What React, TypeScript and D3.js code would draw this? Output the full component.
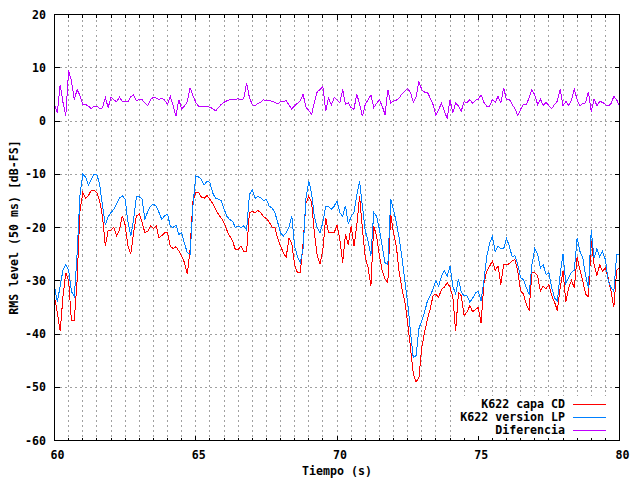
import React from "react";
import * as d3 from "d3";

// RMS level, 50 ms windows, one value every 0.1 s from 60 s to 80 s
const tStart = 60;
const tStep = 0.1;

const capaCD = [
  -33, -36, -39.5, -33, -28.5, -30, -37.5, -37.5, -30, -17,
  -13.5, -14.5, -14, -13, -13, -13.5, -15, -18, -23.5, -20.5,
  -20.5, -20, -21.5, -20.5, -17.8, -19.5, -23.5, -25, -21, -17.8,
  -17.5, -19, -21, -20.7, -19.7, -20.2, -19.7, -22, -21.5, -21,
  -21, -23.5, -24, -23.6, -24.4, -25.3, -26.6, -28.8, -24, -15,
  -13.5, -13.4, -14.3, -14.5, -14, -14.7, -15.5, -16.6, -17.5, -18.2,
  -19.1, -20.5, -21.6, -22.5, -24.1, -24.1, -23.5, -24.5, -24.5, -17.2,
  -17, -17.2, -16.8, -17.2, -18, -18.3, -19, -19.9, -20, -22,
  -23.5, -24.7, -25.6, -22, -23, -27, -28.5, -28.5, -23, -15.5,
  -14.1, -15.2, -21, -25.3, -26.9, -24.1, -18.2, -21, -21, -21,
  -19.5, -22.2, -26.6, -21.3, -23.3, -19.7, -23.5, -19.7, -14.1, -20.3,
  -25.6, -27.5, -31, -19.7, -21.6, -25.3, -28.1, -29.7, -30.3, -17.5,
  -21, -23.5, -28.4, -31.6, -33.8, -37.8, -42.5, -47.4, -49, -48.2,
  -42.5, -39.7, -37.2, -35.3, -32.8, -32.5, -33.1, -31.6, -31.2, -30.4,
  -31.2, -33, -39.5, -32.2, -32.8, -36.5, -35.9, -34.7, -35.8, -35.4,
  -35, -38, -30.5, -28.2, -27.3, -26.3, -28, -27.2, -30.7, -27,
  -27, -26.8, -26.3, -26, -28.2, -31.9, -32.5, -34.4, -35.6, -28.5,
  -28.5, -29, -32, -31, -31.5, -30.7, -32.8, -34, -35.6, -31.3,
  -28.2, -34, -31.3, -30, -31.3, -25.5, -28, -30, -32.5, -33,
  -22.6, -27, -29, -27, -28.2, -27.6, -29.5, -32, -35, -28,
  -27.5,
];

const versionLP = [
  -31, -34, -31, -28, -27, -28, -32, -33, -25, -14,
  -10, -10.5, -12, -11, -10, -10, -12, -16, -19.5, -18,
  -17.2, -16.6, -15.5, -14.5, -14, -14.7, -19, -21.6, -18.5, -14.2,
  -14.2, -14.7, -18.5, -17, -16, -15.6, -16, -17.2, -18.5, -17.8,
  -17.5, -19.7, -20, -19.5, -21.3, -21, -23, -24.7, -25, -16,
  -10.3, -10.5, -11, -12, -11.3, -11.5, -13.5, -14.5, -14.7, -15,
  -16.5, -17.9, -18.5, -18.8, -20, -19.7, -20, -19.7, -20.5, -13.8,
  -12.9, -14.5, -14.2, -14.4, -15, -14.7, -16, -16.3, -17.2, -19,
  -21, -21.6, -21, -20, -17.9, -23.5, -25.5, -26.6, -24, -14.5,
  -11.3, -13.5, -18, -20, -21, -19, -16, -16, -16.6, -16,
  -15, -17.2, -17.9, -15.9, -19.4, -17.9, -17.2, -14, -11.3, -16,
  -20.6, -22.5, -25.3, -17.2, -17.9, -20.3, -23.5, -26.6, -27, -14.7,
  -16.6, -19.1, -21.9, -25.6, -30, -34, -39.5, -44.5, -44, -39,
  -37.5, -35.9, -33.8, -32.8, -31.6, -30, -31, -29.1, -28.1, -29.1,
  -27.3, -31, -32.5, -29.7, -32.2, -32.8, -32.8, -34, -33.3, -32.3,
  -32, -33.8, -30, -25.5, -23, -21.7, -24.5, -23.5, -24, -24,
  -22, -23.5, -25.5, -25.3, -27, -29.4, -29.8, -31.3, -32.5, -27,
  -24, -25, -27.6, -27, -28.8, -28.5, -31.3, -33.2, -33.8, -28.8,
  -25, -30.5, -29.4, -28.4, -28, -22, -24.5, -25.7, -29, -31.3,
  -20.5, -25.7, -24, -25.5, -24.5, -26, -30, -31.3, -32, -25.1,
  -25.1,
];

const diferencia = [
  3.1, 1.6, 6.8, 3.5, 1.0, 9.5, 7.5, 4, 5.9, 4.8,
  3.1, 3.1, 2.8, 2.3, 2.8, 2.8, 2.3, 2.5, 4.4, 2.5,
  4.5, 4, 3.6, 4.5, 3.7, 3.7, 3.6, 4.6, 4.9, 3.8,
  4.1, 4, 3.4, 2.9, 4, 4.5, 4.3, 4, 4.3, 3.9,
  3.1, 4.6, 2.9, 0.9, 4, 2.3, 2.8, 3.6, 6.2, 4.8,
  3.5, 2.8, 2.7, 2.7, 2.7, 2.6, 2.3, 1.9, 2.5, 3.1,
  3.5, 3.8, 4, 4, 4, 4.2, 4, 4.2, 7.1, 4.4,
  3.1, 2.8, 3.3, 3.5, 4, 3.8, 3.9, 3.7, 3.5, 3.2,
  3.6, 3.7, 3.8, 3, 2.2, 2.9, 3.3, 3.8, 5, 2.6,
  2, 1.2, 3.5, 5.5, 5.9, 6.5, 1.8, 4.3, 3, 4.4,
  4, 3.4, 5.9, 3.1, 3.4, 2.5, 2.2, 5.1, 3.1, 0.9,
  3.1, 4, 4.9, 2.5, 3.3, 4, 2.8, 1.2, 5.9, 3.4,
  3.7, 3.9, 4.3, 5.1, 5.6, 6.1, 5.4, 3.5, 4.6, 7.4,
  5.9, 5.4, 5.4, 4.3, 3.1, 1, 2.2, 3.3, 1.9, 0.4,
  4, 1.5, 3.4, 2.8, 1.9, 3.7, 3.4, 4, 3.3, 3.9,
  4.1, 4.9, 3.5, 2.8, 2.8, 4, 3.5, 4.6, 3.4, 6.2,
  4, 4.1, 3.1, 2.3, 1, 2.2, 3.1, 3.1, 4.3, 5.9,
  4.9, 3.1, 4.1, 2.9, 3.5, 2.9, 2.3, 3.1, 3.7, 6,
  2.8, 3.7, 2.9, 4, 6, 4, 2.8, 3.3, 3.4, 5.5,
  1.8, 4.1, 2.9, 3.7, 3.5, 3.1, 2.8, 3.3, 4.6, 4,
  2.8,
];

const xTicks = [60, 65, 70, 75, 80];
const yTicks = [-60, -50, -40, -30, -20, -10, 0, 10, 20];

const series = [
  {name: "K622 capa CD", values: capaCD, color: "#ff0000"},
  {name: "K622 version LP", values: versionLP, color: "#0080ff"},
  {name: "Diferencia", values: diferencia, color: "#c000ff"},
];

const font = {fontFamily: "'DejaVu Sans Mono', monospace", fontWeight: "bold", fontSize: "11.6px"};

const App = () => {
  const left = 54.5, right = 619.5, top = 14.5, bottom = 440.5;
  const x = d3.scaleLinear().domain([60, 80]).range([left, right]);
  const y = d3.scaleLinear().domain([-60, 20]).range([bottom, top]);

  // minor ticks every 0.5 s, grid at each of them
  const xMinor = d3.range(60, 80.001, 0.5);

  const line = d3.line<number>()
    .x((_, i) => x(tStart + i * tStep))
    .y(v => y(v));

  return (
    <div style={{position: "fixed", left: 0, top: 0}}>
      <svg width={640} height={480} style={{display: "block", background: "#fff"}}>
        {/* grid */}
        <g stroke="#a0a0a0" strokeWidth={1} strokeDasharray="2,3" shapeRendering="crispEdges">
          {xMinor.filter(t => t > 60 && t < 80).map(t => (
            <line key={"gx" + t} x1={x(t)} x2={x(t)} y1={top} y2={bottom}/>
          ))}
          {yTicks.filter(v => v > -60 && v < 20).map(v => (
            <line key={"gy" + v} x1={left} x2={right} y1={y(v)} y2={y(v)}/>
          ))}
        </g>

        {/* data */}
        {series.map(s => (
          <path key={s.name} d={line(s.values) || ""} fill="none" stroke={s.color}
                strokeWidth={1} shapeRendering="crispEdges"/>
        ))}

        {/* key, opaque */}
        <rect x={455} y={396} width={164} height={43} fill="#fff"/>
        {series.map((s, i) => (
          <g key={"k" + s.name}>
            <text x={565} y={404 + i * 13} textAnchor="end" dominantBaseline="central" style={font}>{s.name}</text>
            <line x1={573} x2={606} y1={404.5 + i * 13} y2={404.5 + i * 13} stroke={s.color}
                  strokeWidth={1} shapeRendering="crispEdges"/>
          </g>
        ))}

        {/* border and tics */}
        <g stroke="#000" strokeWidth={1} shapeRendering="crispEdges">
          <rect x={left} y={top} width={right - left} height={bottom - top} fill="none"/>
          {xMinor.map(t => {
            const len = xTicks.includes(t) ? 5 : 3;
            return (
              <g key={"tx" + t}>
                <line x1={x(t)} x2={x(t)} y1={bottom} y2={bottom - len}/>
                <line x1={x(t)} x2={x(t)} y1={top} y2={top + len}/>
              </g>
            );
          })}
          {yTicks.map(v => (
            <g key={"ty" + v}>
              <line x1={left} x2={left + 5} y1={y(v)} y2={y(v)}/>
              <line x1={right} x2={right - 5} y1={y(v)} y2={y(v)}/>
            </g>
          ))}
        </g>

        {/* tick labels */}
        {yTicks.map(v => (
          <text key={"ly" + v} x={46} y={y(v)} textAnchor="end" dominantBaseline="central" style={font}>{v}</text>
        ))}
        {xTicks.map(t => (
          <text key={"lx" + t} x={x(t) + 3} y={455} textAnchor="middle" dominantBaseline="central" style={font}>{t}</text>
        ))}

        {/* axis labels */}
        <text x={(left + right) / 2} y={471} textAnchor="middle" dominantBaseline="central" style={font}>Tiempo (s)</text>
        <text transform={`translate(14,${(top + bottom) / 2}) rotate(-90)`} textAnchor="middle"
              dominantBaseline="central" style={font}>RMS level (50 ms) [dB-FS]</text>
      </svg>
    </div>
  );
};

export default App;
